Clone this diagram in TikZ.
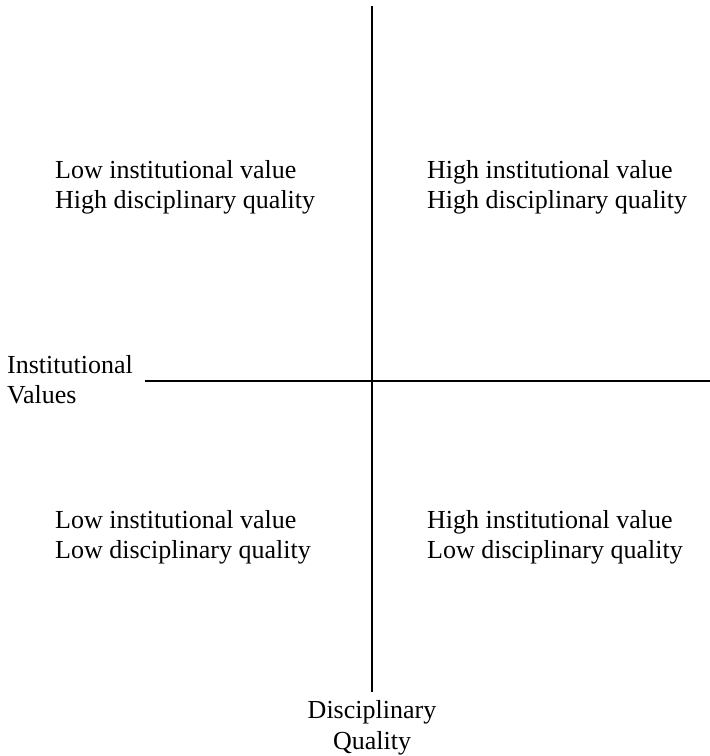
\documentclass[tikz,border=0pt]{standalone}
\usepackage{fontspec}
\setmainfont{Liberation Serif}
\newcommand{\quadfont}{\fontsize{26}{30}\selectfont}

\begin{document}
\begin{tikzpicture}[x=1pt,y=-1pt]
\tikzset{QuadText/.style ={anchor=north west,inner sep=0,align=left,font=\quadfont}}
\tikzset{AxisLine/.style ={line width=2.2pt,black}}
\useasboundingbox (0,0) rectangle (710,756);
\coordinate (N) at (372,6);
\coordinate (S) at (372,692);
\coordinate (W) at (145,381);
\coordinate (E) at (710,381);
\draw[AxisLine] (N) -- (S);
\draw[AxisLine] (W) -- (E);
\node[QuadText] (lowhigh) at (55,160) {Low institutional value\\High disciplinary quality};
\node[QuadText] (highhigh) at (427,160) {High institutional value\\High disciplinary quality};
\node[QuadText] (lowlow) at (55,510) {Low institutional value\\Low disciplinary quality};
\node[QuadText] (highlow) at (427,510) {High institutional value\\Low disciplinary quality};
\node[QuadText] (instval) at (7,355) {Institutional\\Values};
\node[QuadText,anchor=north,align=center,font=\fontsize{26}{31}\selectfont] (discqual) at (372,700) {Disciplinary\\Quality};
\end{tikzpicture}
\end{document}
